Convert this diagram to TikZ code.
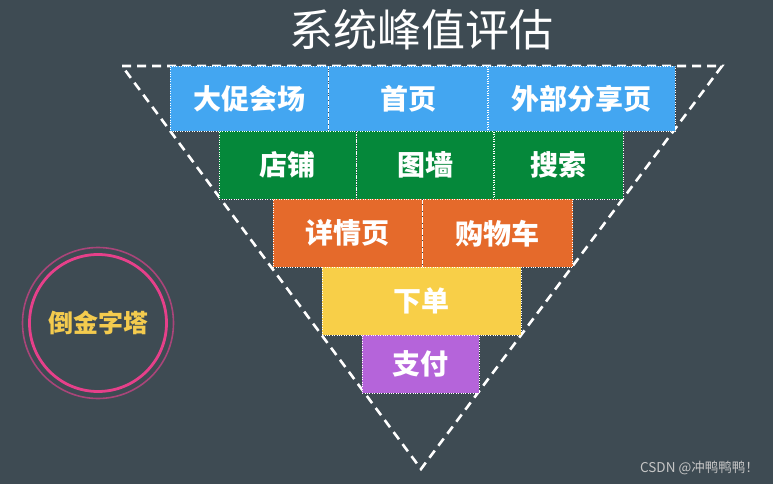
\documentclass[tikz,border=0pt]{standalone}
\usepackage{fontspec}
\newfontfamily\cjk{Noto Sans CJK SC}
\usetikzlibrary{positioning}
\definecolor{bgslate}{HTML}{3E4B53}
\definecolor{cellblue}{HTML}{43A6F1}
\definecolor{cellgreen}{HTML}{05883A}
\definecolor{cellorange}{HTML}{E56A2B}
\definecolor{cellyellow}{HTML}{F8CF48}
\definecolor{cellpurple}{HTML}{B564DA}
\definecolor{ringpink}{HTML}{E6408A}
\definecolor{ringdim}{HTML}{A94579}
\definecolor{labelgold}{HTML}{F4CB4E}

\begin{document}
\begin{tikzpicture}[x=1pt, y=-1pt,
    every node/.style={inner sep=0pt, font=\cjk},
    cell/.style={rectangle, draw=white, dotted, text=white, minimum height=68,
      font=\cjk\bfseries\fontsize{28}{28}\selectfont},
    funnel/.style={draw=white, line width=2.6pt, dash pattern=on 9pt off 6pt}
  ]
  % background
  \fill[bgslate] (0,0) rectangle (773,484);
  \useasboundingbox (0,0) rectangle (773,484);

  \node[text=white, font=\cjk\fontsize{44}{44}\selectfont] (title) at (421,30) {系统峰值评估};

  % dashed triangle
  \coordinate (tl) at (122,66);
  \coordinate (tr) at (722,66);
  \coordinate (tip) at (421,469);
  \draw[funnel] (tl) -- (tr) -- (tip) -- cycle;

  % row 1
  \node[cell, fill=cellblue, minimum width=158, minimum height=65, anchor=north west] (hall) at (170,66) {大促会场};
  \node[cell, fill=cellblue, minimum width=159, minimum height=65, right=0pt of hall] (home) {首页};
  \node[cell, fill=cellblue, minimum width=187, minimum height=65, right=0pt of home] (share) {外部分享页};
  % row 2
  \node[cell, fill=cellgreen, minimum width=137, anchor=north west] (shop) at (219,131) {店铺};
  \node[cell, fill=cellgreen, minimum width=137, right=0pt of shop] (wall) {图墙};
  \node[cell, fill=cellgreen, minimum width=129, right=0pt of wall] (search) {搜索};
  % row 3
  \node[cell, fill=cellorange, minimum width=149, anchor=north west] (detail) at (273,199) {详情页};
  \node[cell, fill=cellorange, minimum width=150, right=0pt of detail] (cart) {购物车};
  % row 4
  \node[cell, fill=cellyellow, minimum width=199, anchor=north west] (order) at (322,267) {下单};
  % row 5
  \node[cell, fill=cellpurple, minimum width=117, minimum height=58, anchor=north west] (pay) at (362,335) {支付};

  % side badge
  \node[circle, draw=ringdim, line width=1.6pt, minimum size=151] (ringout) at (98,323) {};
  \node[circle, draw=ringpink, line width=2.8pt, minimum size=137] (ringin) at (ringout.center) {};
  \node[text=labelgold, font=\cjk\bfseries\fontsize{25}{25}\selectfont] (badge) at (ringout.center) {倒金字塔};

  \node[text=gray!45, font=\cjk\fontsize{13.5}{13.5}\selectfont, anchor=east] (mark) at (759,468) {CSDN @冲鸭鸭鸭！};
\end{tikzpicture}
\end{document}
